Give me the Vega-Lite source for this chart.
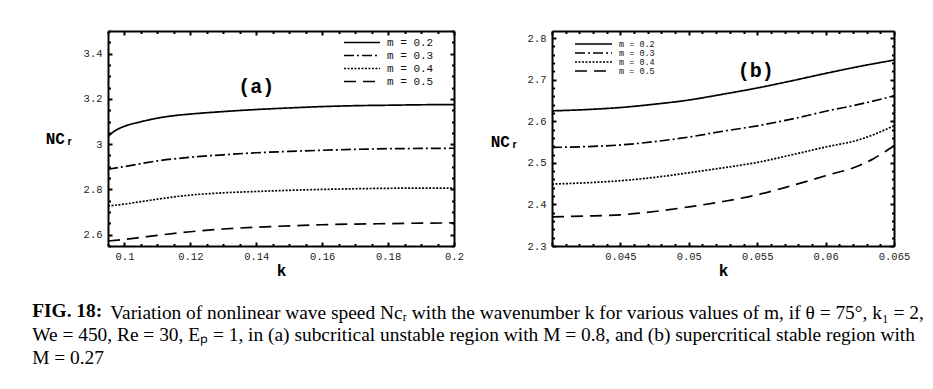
{
  "$schema": "https://vega.github.io/schema/vega-lite/v6.json",
  "padding": {"left": 32, "top": 26, "right": 5, "bottom": 5},
  "background": "white",
  "config": {
    "view": {"stroke": null},
    "title": {"font": "Liberation Serif", "fontSize": 19.4, "fontWeight": "normal", "color": "black", "anchor": "start", "orient": "bottom", "frame": "bounds", "lineHeight": 23},
    "axis": {
      "grid": false,
      "domainColor": "black",
      "domainWidth": 2,
      "tickColor": "black",
      "tickWidth": 2,
      "labelFont": "Liberation Mono",
      "labelFontSize": 10.5,
      "labelColor": "#222222",
      "labelFlush": false,
      "labelOverlap": false,
      "titleFont": "Liberation Mono",
      "titleFontWeight": "bold",
      "titleFontSize": 16,
      "titleColor": "black"
    },
    "legend": {
      "labelFont": "Liberation Mono",
      "labelColor": "#111111",
      "symbolType": "stroke",
      "symbolStrokeColor": "black",
      "symbolStrokeWidth": 1.5,
      "rowPadding": 0,
      "padding": 0
    }
  },
  "datasets": {
    "a": [
      {"k": 0.095, "v": 3.034, "m": "m = 0.2"}, {"k": 0.097, "v": 3.058, "m": "m = 0.2"}, {"k": 0.1, "v": 3.079, "m": "m = 0.2"}, {"k": 0.105, "v": 3.099, "m": "m = 0.2"}, {"k": 0.11, "v": 3.115, "m": "m = 0.2"}, {"k": 0.115, "v": 3.126, "m": "m = 0.2"}, {"k": 0.12, "v": 3.133, "m": "m = 0.2"}, {"k": 0.13, "v": 3.144, "m": "m = 0.2"}, {"k": 0.14, "v": 3.153, "m": "m = 0.2"}, {"k": 0.15, "v": 3.16, "m": "m = 0.2"}, {"k": 0.16, "v": 3.166, "m": "m = 0.2"}, {"k": 0.17, "v": 3.17, "m": "m = 0.2"}, {"k": 0.18, "v": 3.172, "m": "m = 0.2"}, {"k": 0.19, "v": 3.174, "m": "m = 0.2"}, {"k": 0.2, "v": 3.175, "m": "m = 0.2"},
      {"k": 0.095, "v": 2.889, "m": "m = 0.3"}, {"k": 0.1, "v": 2.901, "m": "m = 0.3"}, {"k": 0.105, "v": 2.914, "m": "m = 0.3"}, {"k": 0.11, "v": 2.926, "m": "m = 0.3"}, {"k": 0.12, "v": 2.942, "m": "m = 0.3"}, {"k": 0.13, "v": 2.953, "m": "m = 0.3"}, {"k": 0.14, "v": 2.962, "m": "m = 0.3"}, {"k": 0.15, "v": 2.968, "m": "m = 0.3"}, {"k": 0.16, "v": 2.973, "m": "m = 0.3"}, {"k": 0.17, "v": 2.977, "m": "m = 0.3"}, {"k": 0.18, "v": 2.98, "m": "m = 0.3"}, {"k": 0.19, "v": 2.981, "m": "m = 0.3"}, {"k": 0.2, "v": 2.982, "m": "m = 0.3"},
      {"k": 0.095, "v": 2.727, "m": "m = 0.4"}, {"k": 0.1, "v": 2.735, "m": "m = 0.4"}, {"k": 0.105, "v": 2.746, "m": "m = 0.4"}, {"k": 0.11, "v": 2.757, "m": "m = 0.4"}, {"k": 0.12, "v": 2.775, "m": "m = 0.4"}, {"k": 0.13, "v": 2.785, "m": "m = 0.4"}, {"k": 0.14, "v": 2.791, "m": "m = 0.4"}, {"k": 0.15, "v": 2.796, "m": "m = 0.4"}, {"k": 0.16, "v": 2.8, "m": "m = 0.4"}, {"k": 0.17, "v": 2.803, "m": "m = 0.4"}, {"k": 0.18, "v": 2.805, "m": "m = 0.4"}, {"k": 0.19, "v": 2.806, "m": "m = 0.4"}, {"k": 0.2, "v": 2.806, "m": "m = 0.4"},
      {"k": 0.095, "v": 2.572, "m": "m = 0.5"}, {"k": 0.1, "v": 2.579, "m": "m = 0.5"}, {"k": 0.105, "v": 2.588, "m": "m = 0.5"}, {"k": 0.11, "v": 2.597, "m": "m = 0.5"}, {"k": 0.12, "v": 2.613, "m": "m = 0.5"}, {"k": 0.13, "v": 2.625, "m": "m = 0.5"}, {"k": 0.14, "v": 2.633, "m": "m = 0.5"}, {"k": 0.15, "v": 2.639, "m": "m = 0.5"}, {"k": 0.16, "v": 2.644, "m": "m = 0.5"}, {"k": 0.17, "v": 2.647, "m": "m = 0.5"}, {"k": 0.18, "v": 2.649, "m": "m = 0.5"}, {"k": 0.19, "v": 2.651, "m": "m = 0.5"}, {"k": 0.2, "v": 2.652, "m": "m = 0.5"}
    ],
    "b": [
      {"k": 0.04, "v": 2.625, "m": "m = 0.2"}, {"k": 0.0425, "v": 2.628, "m": "m = 0.2"}, {"k": 0.045, "v": 2.633, "m": "m = 0.2"}, {"k": 0.0475, "v": 2.641, "m": "m = 0.2"}, {"k": 0.05, "v": 2.651, "m": "m = 0.2"}, {"k": 0.0525, "v": 2.665, "m": "m = 0.2"}, {"k": 0.055, "v": 2.68, "m": "m = 0.2"}, {"k": 0.0575, "v": 2.697, "m": "m = 0.2"}, {"k": 0.06, "v": 2.715, "m": "m = 0.2"}, {"k": 0.0625, "v": 2.732, "m": "m = 0.2"}, {"k": 0.065, "v": 2.747, "m": "m = 0.2"},
      {"k": 0.04, "v": 2.537, "m": "m = 0.3"}, {"k": 0.0425, "v": 2.539, "m": "m = 0.3"}, {"k": 0.045, "v": 2.543, "m": "m = 0.3"}, {"k": 0.0475, "v": 2.551, "m": "m = 0.3"}, {"k": 0.05, "v": 2.562, "m": "m = 0.3"}, {"k": 0.0525, "v": 2.576, "m": "m = 0.3"}, {"k": 0.055, "v": 2.589, "m": "m = 0.3"}, {"k": 0.0575, "v": 2.605, "m": "m = 0.3"}, {"k": 0.06, "v": 2.624, "m": "m = 0.3"}, {"k": 0.0625, "v": 2.641, "m": "m = 0.3"}, {"k": 0.065, "v": 2.661, "m": "m = 0.3"},
      {"k": 0.04, "v": 2.449, "m": "m = 0.4"}, {"k": 0.0425, "v": 2.452, "m": "m = 0.4"}, {"k": 0.045, "v": 2.457, "m": "m = 0.4"}, {"k": 0.0475, "v": 2.465, "m": "m = 0.4"}, {"k": 0.05, "v": 2.476, "m": "m = 0.4"}, {"k": 0.0525, "v": 2.488, "m": "m = 0.4"}, {"k": 0.055, "v": 2.501, "m": "m = 0.4"}, {"k": 0.0575, "v": 2.519, "m": "m = 0.4"}, {"k": 0.06, "v": 2.538, "m": "m = 0.4"}, {"k": 0.0625, "v": 2.556, "m": "m = 0.4"}, {"k": 0.065, "v": 2.589, "m": "m = 0.4"},
      {"k": 0.04, "v": 2.37, "m": "m = 0.5"}, {"k": 0.0425, "v": 2.372, "m": "m = 0.5"}, {"k": 0.045, "v": 2.375, "m": "m = 0.5"}, {"k": 0.0475, "v": 2.383, "m": "m = 0.5"}, {"k": 0.05, "v": 2.394, "m": "m = 0.5"}, {"k": 0.0525, "v": 2.407, "m": "m = 0.5"}, {"k": 0.055, "v": 2.423, "m": "m = 0.5"}, {"k": 0.0575, "v": 2.445, "m": "m = 0.5"}, {"k": 0.06, "v": 2.469, "m": "m = 0.5"}, {"k": 0.0625, "v": 2.494, "m": "m = 0.5"}, {"k": 0.0635, "v": 2.51, "m": "m = 0.5"}, {"k": 0.065, "v": 2.541, "m": "m = 0.5"}
    ],
    "ta": [{"k": 0.14, "v": 3.253, "label": "(a)"}],
    "tb": [{"k": 0.0549, "v": 2.72, "label": "(b)"}]
  },
  "title": {"text": "FIG. 18:", "fontWeight": "bold", "offset": -66, "dx": 0},
  "vconcat": [
    {
      "title": {"text": ["We = 450, Re = 30, Eₚ = 1, in (a) subcritical unstable region with M = 0.8, and (b) supercritical stable region with", "M = 0.27"], "offset": 4, "dx": -13},
      "vconcat": [
        {
          "title": {"text": "Variation of nonlinear wave speed Ncᵣ with the wavenumber k for various values of m, if θ = 75°, k₁ = 2,", "offset": 26, "dx": 65},
          "bounds": "flush",
          "spacing": 98,
          "resolve": {"scale": {"strokeDash": "independent"}, "legend": {"strokeDash": "independent"}},
          "hconcat": [
            {
              "width": 346,
              "height": 215,
              "resolve": {"axis": {"x": "independent", "y": "independent"}},
              "layer": [
                {
                  "data": {"name": "a"},
                  "mark": {"type": "line", "color": "black", "strokeWidth": 1.7, "interpolate": "monotone"},
                  "encoding": {
                    "x": {"field": "k", "type": "quantitative",
                      "scale": {"domain": [0.095, 0.2], "nice": false, "zero": false},
                      "axis": {"orient": "bottom", "title": "k", "titleY": 24, "titleBaseline": "middle",
                        "values": [0.095, 0.1, 0.105, 0.11, 0.115, 0.12, 0.125, 0.13, 0.135, 0.14, 0.145, 0.15, 0.155, 0.16, 0.165, 0.17, 0.175, 0.18, 0.185, 0.19, 0.195, 0.2],
                        "labelExpr": "abs(datum.value*50 - round(datum.value*50)) < 0.000001 ? format(datum.value, '~g') : ''",
                        "tickSize": {"condition": {"test": "abs(datum.value*50 - round(datum.value*50)) < 0.000001", "value": -4}, "value": -2.5},
                        "labelPadding": 9}},
                    "y": {"field": "v", "type": "quantitative",
                      "scale": {"domain": [2.55, 3.5], "nice": false, "zero": false},
                      "axis": {"orient": "left", "title": "NCᵣ", "titleAngle": 0, "titleAlign": "right", "titleBaseline": "middle", "titleX": -34, "titleY": 107,
                        "values": [2.55, 2.6, 2.65, 2.7, 2.75, 2.8, 2.85, 2.9, 2.95, 3.0, 3.05, 3.1, 3.15, 3.2, 3.25, 3.3, 3.35, 3.4, 3.45, 3.5],
                        "labelExpr": "abs(datum.value*5 - round(datum.value*5)) < 0.000001 ? format(datum.value, '~g') : ''",
                        "tickSize": {"condition": {"test": "abs(datum.value*5 - round(datum.value*5)) < 0.000001", "value": -4}, "value": -2.5},
                        "labelPadding": 10}},
                    "strokeDash": {"field": "m", "type": "nominal",
                      "scale": {"domain": ["m = 0.2", "m = 0.3", "m = 0.4", "m = 0.5"], "range": [[1, 0], [10, 3, 2, 3], [2, 1.5], [12, 7]]},
                      "legend": {"orient": "none", "legendX": 235, "legendY": 5, "title": null, "symbolSize": 1300, "clipHeight": 13, "rowPadding": -0.7, "labelFontSize": 11, "labelOffset": 6}}
                  }
                },
                {
                  "data": {"name": "ta"},
                  "mark": {"type": "text", "font": "Liberation Mono", "fontWeight": "bold", "fontSize": 20, "color": "black"},
                  "encoding": {
                    "x": {"field": "k", "type": "quantitative",
                      "axis": {"orient": "top", "title": null, "labels": false,
                        "values": [0.095, 0.1, 0.105, 0.11, 0.115, 0.12, 0.125, 0.13, 0.135, 0.14, 0.145, 0.15, 0.155, 0.16, 0.165, 0.17, 0.175, 0.18, 0.185, 0.19, 0.195, 0.2],
                        "tickSize": {"condition": {"test": "abs(datum.value*50 - round(datum.value*50)) < 0.000001", "value": -4}, "value": -2.5}}},
                    "y": {"field": "v", "type": "quantitative",
                      "axis": {"orient": "right", "title": null, "labels": false,
                        "values": [2.55, 2.6, 2.65, 2.7, 2.75, 2.8, 2.85, 2.9, 2.95, 3.0, 3.05, 3.1, 3.15, 3.2, 3.25, 3.3, 3.35, 3.4, 3.45, 3.5],
                        "tickSize": {"condition": {"test": "abs(datum.value*5 - round(datum.value*5)) < 0.000001", "value": -4}, "value": -2.5}}},
                    "text": {"field": "label"}
                  }
                }
              ]
            },
            {
              "width": 342,
              "height": 215,
              "resolve": {"axis": {"x": "independent", "y": "independent"}},
              "layer": [
                {
                  "data": {"name": "b"},
                  "mark": {"type": "line", "color": "black", "strokeWidth": 1.7, "interpolate": "monotone"},
                  "encoding": {
                    "x": {"field": "k", "type": "quantitative",
                      "scale": {"domain": [0.04, 0.065], "nice": false, "zero": false},
                      "axis": {"orient": "bottom", "title": "k", "titleY": 24, "titleBaseline": "middle",
                        "values": [0.04, 0.041, 0.042, 0.043, 0.044, 0.045, 0.046, 0.047, 0.048, 0.049, 0.05, 0.051, 0.052, 0.053, 0.054, 0.055, 0.056, 0.057, 0.058, 0.059, 0.06, 0.061, 0.062, 0.063, 0.064, 0.065],
                        "labelExpr": "abs(datum.value*200 - round(datum.value*200)) < 0.000001 && datum.value > 0.042 ? format(datum.value, '~g') : ''",
                        "tickSize": {"condition": {"test": "abs(datum.value*200 - round(datum.value*200)) < 0.000001", "value": -4}, "value": -2.5},
                        "labelPadding": 9}},
                    "y": {"field": "v", "type": "quantitative",
                      "scale": {"domain": [2.3, 2.817], "nice": false, "zero": false},
                      "axis": {"orient": "left", "title": "NCᵣ", "titleAngle": 0, "titleAlign": "right", "titleBaseline": "middle", "titleX": -33, "titleY": 110,
                        "values": [2.3, 2.32, 2.34, 2.36, 2.38, 2.4, 2.42, 2.44, 2.46, 2.48, 2.5, 2.52, 2.54, 2.56, 2.58, 2.6, 2.62, 2.64, 2.66, 2.68, 2.7, 2.72, 2.74, 2.76, 2.78, 2.8],
                        "labelExpr": "abs(datum.value*10 - round(datum.value*10)) < 0.000001 ? format(datum.value, '~g') : ''",
                        "tickSize": {"condition": {"test": "abs(datum.value*10 - round(datum.value*10)) < 0.000001", "value": -4}, "value": -2.5},
                        "labelPadding": 10}},
                    "strokeDash": {"field": "m", "type": "nominal",
                      "scale": {"domain": ["m = 0.2", "m = 0.3", "m = 0.4", "m = 0.5"], "range": [[1, 0], [10, 3, 2, 3], [2, 1.5], [12, 7]]},
                      "legend": {"orient": "none", "legendX": 22, "legendY": 9, "title": null, "symbolSize": 1369, "clipHeight": 8, "rowPadding": -2.8, "labelFontSize": 8.5, "labelOffset": 6}}
                  }
                },
                {
                  "data": {"name": "tb"},
                  "mark": {"type": "text", "font": "Liberation Mono", "fontWeight": "bold", "fontSize": 20, "color": "black"},
                  "encoding": {
                    "x": {"field": "k", "type": "quantitative",
                      "axis": {"orient": "top", "title": null, "labels": false,
                        "values": [0.04, 0.041, 0.042, 0.043, 0.044, 0.045, 0.046, 0.047, 0.048, 0.049, 0.05, 0.051, 0.052, 0.053, 0.054, 0.055, 0.056, 0.057, 0.058, 0.059, 0.06, 0.061, 0.062, 0.063, 0.064, 0.065],
                        "tickSize": {"condition": {"test": "abs(datum.value*200 - round(datum.value*200)) < 0.000001", "value": -4}, "value": -2.5}}},
                    "y": {"field": "v", "type": "quantitative",
                      "axis": {"orient": "right", "title": null, "labels": false,
                        "values": [2.3, 2.32, 2.34, 2.36, 2.38, 2.4, 2.42, 2.44, 2.46, 2.48, 2.5, 2.52, 2.54, 2.56, 2.58, 2.6, 2.62, 2.64, 2.66, 2.68, 2.7, 2.72, 2.74, 2.76, 2.78, 2.8],
                        "tickSize": {"condition": {"test": "abs(datum.value*10 - round(datum.value*10)) < 0.000001", "value": -4}, "value": -2.5}}},
                    "text": {"field": "label"}
                  }
                }
              ]
            }
          ]
        }
      ]
    }
  ]
}
